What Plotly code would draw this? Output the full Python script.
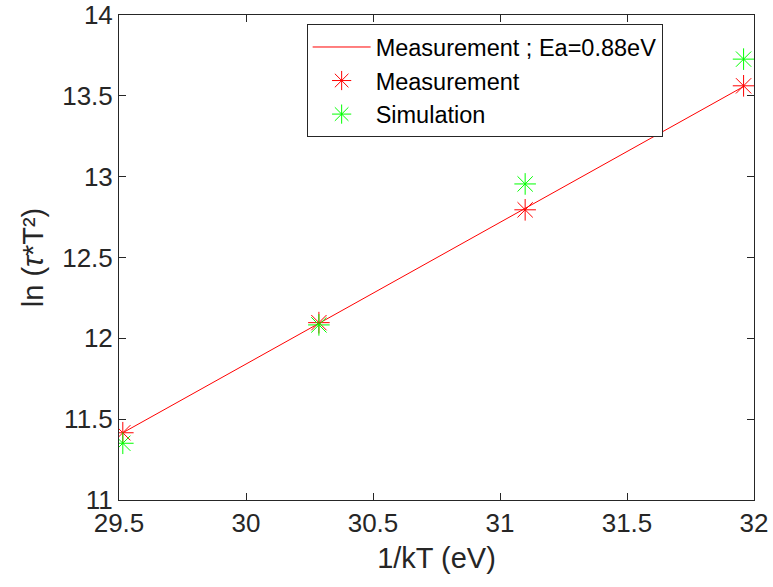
import numpy as np
import plotly.graph_objects as go

# Arrhenius data: inverse thermal energy vs ln(tau*T^2)
inv_kT = [29.515, 30.287, 31.099, 31.959]
ln_meas = [11.416, 12.097, 12.795, 13.562]
ln_sim = [11.351, 12.083, 12.955, 13.727]

x_ticks = [29.5, 30, 30.5, 31, 31.5, 32]
y_ticks = [11, 11.5, 12, 12.5, 13, 13.5, 14]

# linear fit of the measurement (slope = activation energy)
slope, intercept = np.polyfit(inv_kT, ln_meas, 1)
fit_x = [inv_kT[0], inv_kT[-1]]
fit_y = [slope * v + intercept for v in fit_x]

FONT = "Liberation Sans, Arial, sans-serif"
AX = "#262626"

fig = go.Figure()
fig.add_trace(go.Scatter(
    x=fit_x, y=fit_y, mode="lines",
    line=dict(color="#ff0000", width=1),
    name="Measurement ; Ea=0.88eV",
))
fig.add_trace(go.Scatter(
    x=inv_kT, y=ln_meas, mode="markers",
    marker=dict(symbol="asterisk-open", size=18, color="#ff0000",
                line=dict(color="#ff0000", width=1)),
    name="Measurement",
))
fig.add_trace(go.Scatter(
    x=inv_kT, y=ln_sim, mode="markers",
    marker=dict(symbol="asterisk-open", size=18, color="#00ff00",
                line=dict(color="#00ff00", width=1)),
    name="Simulation",
))

axis_common = dict(
    showgrid=False, zeroline=False,
    showline=True, linecolor=AX, linewidth=1, mirror="ticks",
    ticks="inside", ticklen=7, tickwidth=1, tickcolor=AX,
    tickfont=dict(family=FONT, size=26, color=AX),
)

fig.update_xaxes(
    range=[29.5, 32], tickvals=x_ticks,
    ticktext=[f"{v:g}" for v in x_ticks],
    title=dict(text="1/kT (eV)", font=dict(family=FONT, size=29, color=AX),
               standoff=10),
    **axis_common,
)
fig.update_yaxes(
    range=[11, 14], tickvals=y_ticks,
    ticktext=[f"{v:g}" for v in y_ticks],
    title=dict(text="ln (<i>τ</i>*T²)", font=dict(family=FONT, size=29, color=AX),
               standoff=10),
    **axis_common,
)

fig.update_layout(
    width=773, height=587,
    margin=dict(l=119, r=19, t=15, b=87, autoexpand=False),
    plot_bgcolor="white", paper_bgcolor="white",
    font=dict(family=FONT, color=AX),
    showlegend=True,
    legend=dict(
        x=0.2955, y=0.981, xanchor="left", yanchor="top",
        bgcolor="white", bordercolor=AX, borderwidth=1,
        font=dict(family=FONT, size=23.5, color="black"),
        itemwidth=58, tracegroupgap=0,
    ),
)

fig.write_html("out.html")
